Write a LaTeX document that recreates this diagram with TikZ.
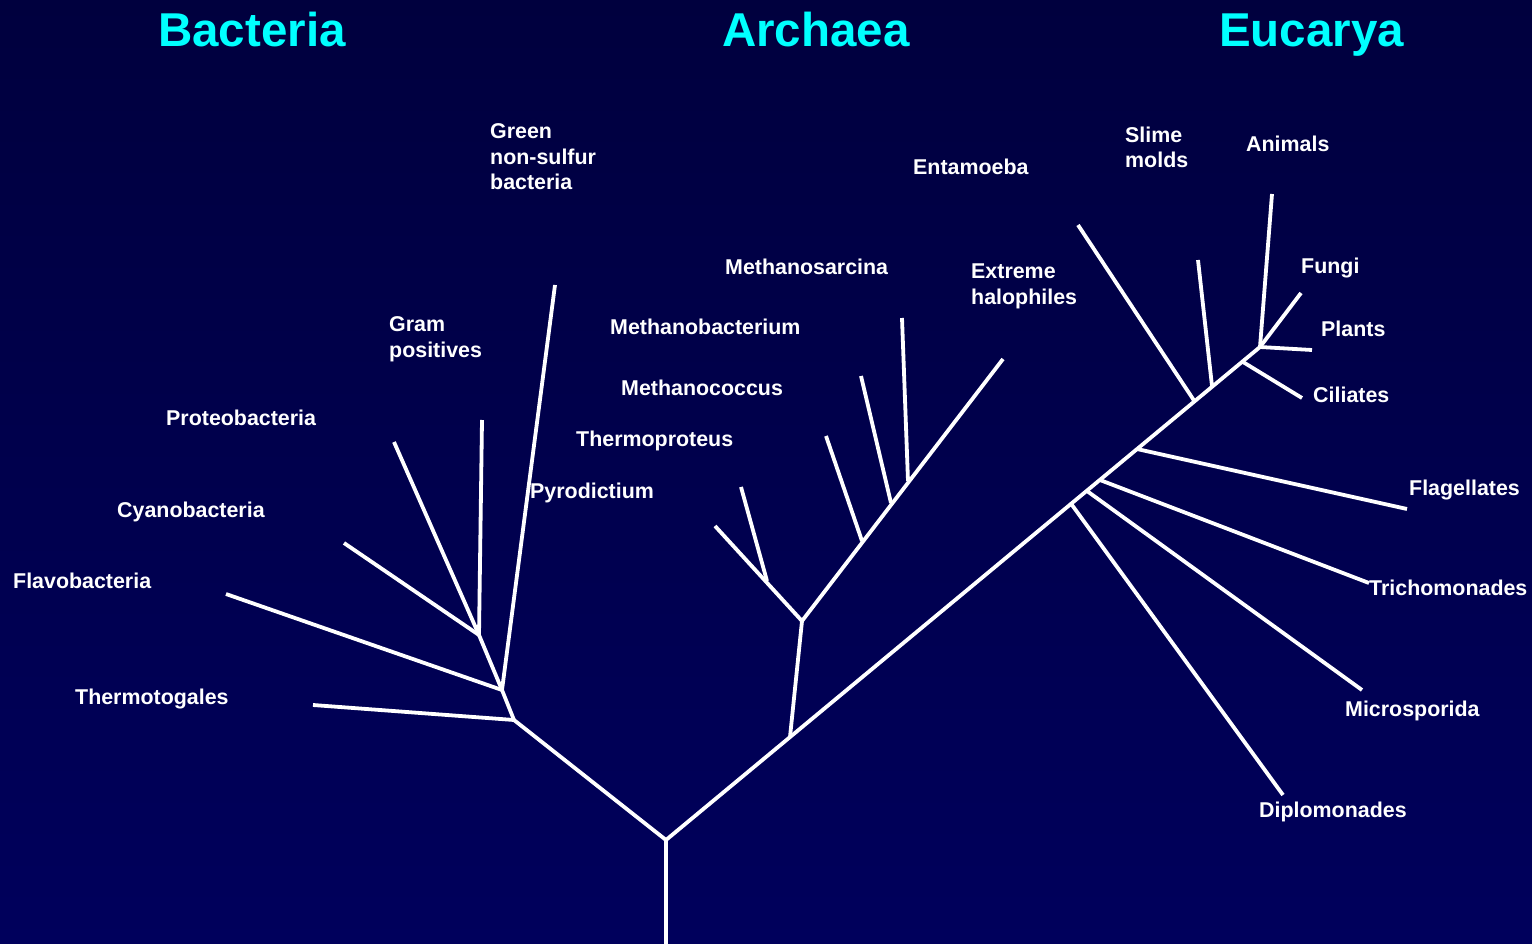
\documentclass[tikz,border=0pt]{standalone}
\usepackage{fontspec}
\setmainfont{Liberation Sans}
\definecolor{bgtop}{RGB}{0,0,62}
\definecolor{bgbot}{RGB}{0,0,92}
\definecolor{titlecyan}{RGB}{0,255,255}
\tikzset{
  branch/.style={draw=white, line width=3.8pt},
  lbl/.style={text=white, font=\bfseries\fontsize{21.4}{25.5}\selectfont, anchor=base west, inner sep=0pt, align=left},
  dom/.style={text=titlecyan, font=\bfseries\fontsize{47.5}{50}\selectfont, anchor=base west, inner sep=0pt}
}
\begin{document}
\begin{tikzpicture}[x=1pt,y=-1pt]
\shade[top color=bgtop, bottom color=bgbot] (0,0) rectangle (1532,944);
\useasboundingbox (0,0) rectangle (1532,944);

% titles
\node[dom] (tB) at (158,47) {Bacteria};
\node[dom] (tA) at (722,47) {Archaea};
\node[dom] (tE) at (1219,47) {Eucarya};

% tree points
\coordinate (base) at (666,944);
\coordinate (root) at (666,840);
\coordinate (B0) at (514,720);
\coordinate (B1) at (502,690);
\coordinate (B2) at (479,635);
\coordinate (A0) at (790,737);
\coordinate (A1) at (802,621);
\coordinate (A2) at (767,581);
\coordinate (A3) at (862,541);
\coordinate (A4) at (891,503);
\coordinate (A5) at (908,481);
\coordinate (Etop) at (1260,347);
\coordinate (E1) at (1072,505);
\coordinate (E2) at (1087,491);
\coordinate (E3) at (1100,480);
\coordinate (E4) at (1137,449);
\coordinate (E5) at (1195,402);
\coordinate (E6) at (1212,386);
\coordinate (E7) at (1243,362);

% leaves
\coordinate (lThermotogales) at (313,705);
\coordinate (lFlavo) at (226,594);
\coordinate (lGreen) at (555,285);
\coordinate (lGram) at (482,420);
\coordinate (lProteo) at (394,442);
\coordinate (lCyano) at (344,543);
\coordinate (lPyro) at (715,526);
\coordinate (lThermop) at (741,487);
\coordinate (lMcoccus) at (826,436);
\coordinate (lMbact) at (861,376);
\coordinate (lMsarc) at (902,318);
\coordinate (lHalo) at (1003,359);
\coordinate (lDiplo) at (1283,795);
\coordinate (lMicro) at (1362,690);
\coordinate (lTricho) at (1369,583);
\coordinate (lFlag) at (1407,509);
\coordinate (lEnta) at (1078,225);
\coordinate (lSlime) at (1198,260);
\coordinate (lCil) at (1302,398);
\coordinate (lAnim) at (1272,194);
\coordinate (lFungi) at (1301,293);
\coordinate (lPlants) at (1312,350);

% trunk
\draw[branch] (base) -- (root);
\draw[branch] (root) -- (B0);
\draw[branch] (root) -- (Etop);

% Bacteria
\draw[branch] (B0) -- (lThermotogales);
\draw[branch] (B0) -- (B1);
\draw[branch] (B1) -- (lFlavo);
\draw[branch] (B1) -- (lGreen);
\draw[branch] (B1) -- (B2);
\draw[branch] (B2) -- (lGram);
\draw[branch] (B2) -- (lProteo);
\draw[branch] (B2) -- (lCyano);

% Archaea
\draw[branch] (A0) -- (A1);
\draw[branch] (A1) -- (lPyro);
\draw[branch] (A2) -- (lThermop);
\draw[branch] (A1) -- (lHalo);
\draw[branch] (A3) -- (lMcoccus);
\draw[branch] (A4) -- (lMbact);
\draw[branch] (A5) -- (lMsarc);

% Eucarya
\draw[branch] (E1) -- (lDiplo);
\draw[branch] (E2) -- (lMicro);
\draw[branch] (E3) -- (lTricho);
\draw[branch] (E4) -- (lFlag);
\draw[branch] (E5) -- (lEnta);
\draw[branch] (E6) -- (lSlime);
\draw[branch] (E7) -- (lCil);
\draw[branch] (Etop) -- (lAnim);
\draw[branch] (Etop) -- (lFungi);
\draw[branch] (Etop) -- (lPlants);

% labels (multi-line: base = last line)
\node[lbl] (nGreen) at (490,190) {Green\\non-sulfur\\bacteria};
\node[lbl] (nGram) at (389,357) {Gram\\positives};
\node[lbl] (nProteo) at (166,425) {Proteobacteria};
\node[lbl] (nCyano) at (117,517) {Cyanobacteria};
\node[lbl] (nFlavo) at (13,588) {Flavobacteria};
\node[lbl] (nThermotog) at (75,704) {Thermotogales};
\node[lbl] (nPyro) at (530,498) {Pyrodictium};
\node[lbl] (nThermop) at (576,446) {Thermoproteus};
\node[lbl] (nMcoccus) at (621,395) {Methanococcus};
\node[lbl] (nMbact) at (610,334) {Methanobacterium};
\node[lbl] (nMsarc) at (725,275) {Methanosarcina};
\node[lbl] (nEnta) at (913,175) {Entamoeba};
\node[lbl] (nHalo) at (971,304) {Extreme\\halophiles};
\node[lbl] (nSlime) at (1125,168) {Slime\\molds};
\node[lbl] (nAnim) at (1246,152) {Animals};
\node[lbl] (nFungi) at (1301,273) {Fungi};
\node[lbl] (nPlants) at (1321,336) {Plants};
\node[lbl] (nCil) at (1313,402) {Ciliates};
\node[lbl] (nFlag) at (1409,495) {Flagellates};
\node[lbl] (nTricho) at (1369,595) {Trichomonades};
\node[lbl] (nMicro) at (1345,716) {Microsporida};
\node[lbl] (nDiplo) at (1259,817) {Diplomonades};
\end{tikzpicture}
\end{document}
